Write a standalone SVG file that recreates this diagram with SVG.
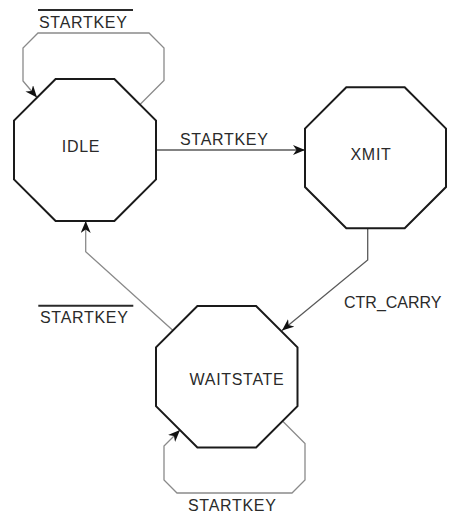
<svg xmlns="http://www.w3.org/2000/svg" width="452" height="513" viewBox="0 0 452 513">
  <style>
    .state { fill: #ffffff; stroke: #1a1a1a; stroke-width: 2; stroke-linejoin: miter; }
    .lbl { font-family: "Liberation Sans", Arial, sans-serif; font-size: 16px; fill: #2a2a2a; letter-spacing: 0.7px; }
    .lbl.tight { letter-spacing: 0; }
    .edge { fill: none; stroke: #8a8a8a; stroke-width: 1.3; stroke-linejoin: miter; }
    .edge.dark { stroke: #5a5a5a; }
    .bar { stroke: #2a2a2a; stroke-width: 2; }
  </style>
  <defs>
    <marker id="arrow" markerUnits="userSpaceOnUse" markerWidth="14" markerHeight="11" refX="12" refY="5" orient="auto">
      <path d="M0,0 L12,5 L0,10 L3.5,5 z" fill="#111"/>
    </marker>
  </defs>

  <!-- connectors -->
  <g id="connectors">
    <!-- IDLE self-loop (not STARTKEY) -->
    <polyline class="edge" points="140,104.5 164,80.5 164,48 149,33 38,33 23,48 23,81 37,97.5" marker-end="url(#arrow)"/>
    <!-- IDLE -> XMIT -->
    <line class="edge dark" x1="156" y1="150" x2="305" y2="150" marker-end="url(#arrow)"/>
    <!-- XMIT -> WAITSTATE -->
    <polyline class="edge dark" points="367.7,228.3 367.7,260 282,330.5" marker-end="url(#arrow)"/>
    <!-- WAITSTATE -> IDLE -->
    <polyline class="edge" points="173,330.5 85.7,251.7 85.7,221" marker-end="url(#arrow)"/>
    <!-- WAITSTATE self-loop -->
    <polyline class="edge" points="283,421.5 305,443.5 305,480 292,493 177,493 164,480 164,446 180,430" marker-end="url(#arrow)"/>

    <!-- edge labels -->
    <line class="bar" x1="38" y1="10" x2="133" y2="10"/>
    <text class="lbl" x="39" y="27.5">STARTKEY</text>
    <text class="lbl" x="180" y="145">STARTKEY</text>
    <text class="lbl tight" x="344" y="308">CTR_CARRY</text>
    <line class="bar" x1="38.3" y1="305.7" x2="133.3" y2="305.7"/>
    <text class="lbl" x="40" y="323.3">STARTKEY</text>
    <text class="lbl" x="188" y="510.5">STARTKEY</text>
  </g>

  <!-- states -->
  <g id="IDLE">
    <polygon class="state" points="55.6,79 114.4,79 156,120.6 156,179.4 114.4,221 55.6,221 14,179.4 14,120.6"/>
    <text class="lbl" x="81" y="151.5" text-anchor="middle">IDLE</text>
  </g>
  <g id="XMIT">
    <polygon class="state" points="346.3,87.3 404.7,87.3 446,128.6 446,187 404.7,228.3 346.3,228.3 305,187 305,128.6"/>
    <text class="lbl" x="371" y="159.7" text-anchor="middle">XMIT</text>
  </g>
  <g id="WAITSTATE">
    <polygon class="state" points="197.4,306 256.1,306 297.5,347.4 297.5,406.1 256.1,447.5 197.4,447.5 156,406.1 156,347.4"/>
    <text class="lbl" x="237" y="384.7" text-anchor="middle">WAITSTATE</text>
  </g>
</svg>
